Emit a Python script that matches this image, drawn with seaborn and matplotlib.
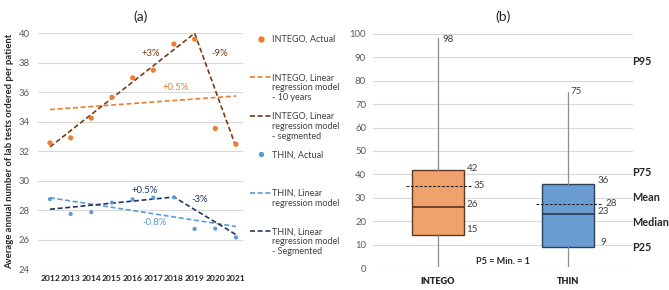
import numpy as np
import pandas as pd
import matplotlib
matplotlib.use("Agg")
import matplotlib.pyplot as plt
from matplotlib.lines import Line2D
import matplotlib.transforms as mtransforms
import seaborn as sns

# ---- data ----
years = [2012, 2013, 2014, 2015, 2016, 2017, 2018, 2019, 2020, 2021]
intego_actual = [32.57, 32.91, 34.25, 35.66, 36.98, 37.50, 39.27, 39.60, 33.55, 32.48]
thin_actual = [28.76, 27.75, 27.87, 28.52, 28.74, 28.85, 28.88, 26.74, 26.76, 26.16]

intego_lin_years = [2012, 2021]
intego_lin = [34.83, 35.75]
intego_seg_years = [2012, 2019, 2021]
intego_seg = [32.3, 40.0, 32.3]

thin_lin_years = [2012, 2021]
thin_lin = [28.85, 26.90]
thin_seg_years = [2012, 2018, 2021]
thin_seg = [28.07, 28.90, 26.35]

# panel (b) summary statistics
groups = ["INTEGO", "THIN"]
p5 = [1, 1]
p25 = [14, 9]
median = [26, 23]
p75 = [42, 36]
p95 = [98, 75]
mean = [35, 27.2]
value_labels = [["98", "42", "35", "26", "15"], ["75", "36", "28", "23", "9"]]

# colours
c_orange = "#ED7D31"
c_brown = "#7B3A16"
c_blue = "#5B9BD5"
c_navy = "#1F3864"
c_grid = "#D9D9D9"
c_tick = "#595959"

sns.set_theme(style="white")
plt.rcParams["font.family"] = ["Lato", "DejaVu Sans"]

fig = plt.figure(figsize=(6.69, 2.90), dpi=100)
W, H = 669, 290


def fx(px):
    return px / W


def fy(py):
    return 1 - py / H


# ---------------- panel (a) ----------------
ax1 = fig.add_axes([fx(38), fy(269.3), fx(205), (269.3 - 33.3) / H])
dash = (3, 1.6)

sns.lineplot(x=intego_lin_years, y=intego_lin, ax=ax1, color=c_orange, lw=1.2,
             linestyle=(0, dash))
sns.lineplot(x=intego_seg_years, y=intego_seg, ax=ax1, color=c_brown, lw=1.2,
             linestyle=(0, dash))
sns.lineplot(x=thin_lin_years, y=thin_lin, ax=ax1, color=c_blue, lw=1.2,
             linestyle=(0, dash))
sns.lineplot(x=thin_seg_years, y=thin_seg, ax=ax1, color=c_navy, lw=1.2,
             linestyle=(0, dash))
sns.scatterplot(x=years, y=intego_actual, ax=ax1, color=c_orange, s=14,
                edgecolor="none", zorder=3)
sns.scatterplot(x=years, y=thin_actual, ax=ax1, color=c_blue, s=9,
                edgecolor="none", zorder=3)

ax1.set_xlim(2011.42, 2021.34)
ax1.set_ylim(24, 40)
ax1.set_yticks(range(24, 41, 2))
ax1.set_xticks(years)
ax1.set_xticklabels([str(y) for y in years], fontsize=6.1, fontweight="bold",
                    color="#262626")
ax1.tick_params(axis="y", labelsize=6.8, labelcolor=c_tick, length=0, pad=6)
ax1.tick_params(axis="x", length=0, pad=4)
ax1.grid(axis="y", color=c_grid, lw=0.8)
ax1.set_axisbelow(True)
sns.despine(ax=ax1, left=True, bottom=True)
ax1.set_ylabel("Average annual number of lab tests ordered per patient",
               fontsize=6.8, fontweight="bold", color="#262626", labelpad=3)
ax1.set_title("(a)", fontsize=10, color="#262626", pad=9)

# trend annotations
ann = dict(fontsize=6.8, ha="center", va="center")
ax1.text(2016.9, 38.6, "+3%", color=c_brown, **ann)
ax1.text(2020.2, 38.6, "-9%", color=c_brown, **ann)
ax1.text(2018.1, 36.3, "+0.5%", color=c_orange, **ann)
ax1.text(2016.6, 29.37, "+0.5%", color=c_navy, **ann)
ax1.text(2019.25, 28.7, "-3%", color=c_navy, **ann)
ax1.text(2017.05, 27.2, "-0.8%", color=c_blue, **ann)

# legend, laid out like the spreadsheet one
legend_items = [
    ("dot", c_orange, 3.6, "INTEGO, Actual"),
    ("line", c_orange, 0, "INTEGO, Linear\nregression model\n- 10 years"),
    ("line", c_brown, 0, "INTEGO, Linear\nregression model\n- segmented"),
    ("dot", c_blue, 2.8, "THIN, Actual"),
    ("line", c_blue, 0, "THIN, Linear\nregression model"),
    ("line", c_navy, 0, "THIN, Linear\nregression model\n- Segmented"),
]
shift = mtransforms.ScaledTranslation(0, 4.0 / 100, fig.dpi_scale_trans)
for i, (kind, col, ms, label) in enumerate(legend_items):
    y = 38.7 + 38.5 * i
    if kind == "dot":
        fig.add_artist(Line2D([fx(260.5)], [fy(y)], marker="o", ms=ms, color=col,
                              lw=0, transform=fig.transFigure))
    else:
        fig.add_artist(Line2D([fx(250), fx(271)], [fy(y), fy(y)], color=col, lw=1.2,
                              linestyle=(0, dash), transform=fig.transFigure))
    fig.text(fx(272.5), fy(y), label, fontsize=6.5, color="#404040", va="top",
             ha="left", linespacing=1.15, transform=fig.transFigure + shift)

# ---------------- panel (b) ----------------
ax2 = fig.add_axes([fx(373), fy(268.3), fx(260), (268.3 - 33.7) / H])
box_fill = ["#F0A26C", "#6A9ED3"]
box_edge = ["#5C3A24", "#2E3F5E"]
med_col = ["#4A2A14", "#22324F"]

for i, g in enumerate(groups):
    stats = [{"med": median[i], "q1": p25[i], "q3": p75[i],
              "whislo": p5[i], "whishi": p95[i], "label": g}]
    ax2.bxp(stats, positions=[i], widths=0.4, showfliers=False, showcaps=False,
            patch_artist=True,
            boxprops=dict(facecolor=box_fill[i], edgecolor=box_edge[i], lw=1.0),
            medianprops=dict(color=med_col[i], lw=1.1),
            whiskerprops=dict(color="#8C8C8C", lw=0.9))
    sns.lineplot(x=[i - 0.25, i + 0.255], y=[mean[i], mean[i]], ax=ax2,
                 color="#202020", lw=0.8, linestyle=(0, (2.5, 1.5)), zorder=4)

ax2.set_xlim(-0.5, 1.5)
ax2.set_ylim(0, 100)
ax2.set_yticks(range(0, 101, 10))
ax2.set_xticks([0, 1])
ax2.set_xticklabels(groups, fontsize=6.6, fontweight="heavy", color="#262626")
ax2.tick_params(axis="y", labelsize=6.8, labelcolor=c_tick, length=0, pad=5)
ax2.tick_params(axis="x", length=0, pad=6)
ax2.grid(axis="y", color=c_grid, lw=0.8)
ax2.set_axisbelow(True)
sns.despine(ax=ax2, left=True, bottom=True)
ax2.set_title("(b)", fontsize=10, color="#262626", pad=9)

# value labels beside each box
label_pos = [
    [(0.035, 97.7), (0.22, 42.6), (0.275, 35.3), (0.22, 27.2), (0.22, 16.6)],
    [(1.02, 75.3), (1.23, 37.6), (1.29, 27.8), (1.23, 24.0), (1.25, 10.8)],
]
for i in range(2):
    for txt, (x, y) in zip(value_labels[i], label_pos[i]):
        ax2.text(x, y, txt, fontsize=7, color="#404040", ha="left", va="center")

# percentile captions on the right
trans = mtransforms.blended_transform_factory(ax2.transAxes, ax2.transData)
for txt, y in [("P95", 88.3), ("P75", 40.7), ("Mean", 30.0), ("Median", 19.6),
               ("P25", 8.8)]:
    ax2.text(0.995, y, txt, transform=trans, fontsize=7.8, fontweight="bold",
             color="#262626", ha="left", va="center")
ax2.text(0.5, 3.0, "P5 = Min. = 1", fontsize=6.6, fontweight="bold",
         color="#262626", ha="center", va="center")

fig.savefig("out.png", dpi=100)
